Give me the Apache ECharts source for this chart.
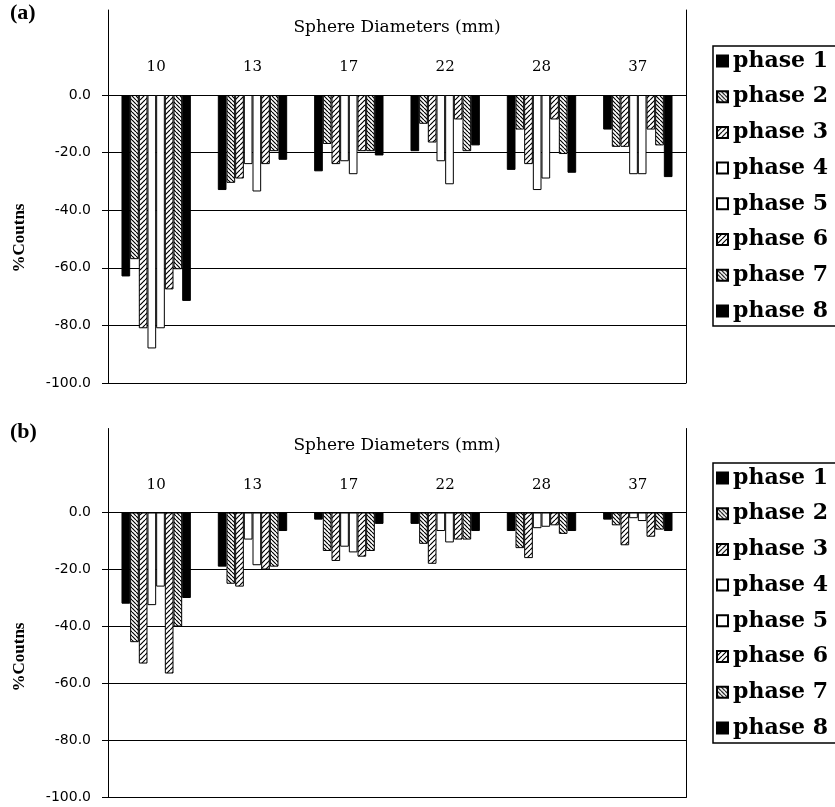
<!DOCTYPE html>
<html>
<head>
<meta charset="utf-8">
<script src="https://cdn.jsdelivr.net/npm/echarts@6/dist/echarts.min.js"></script>
<style>html,body{margin:0;padding:0;background:#fff}#c{width:835px;height:807px}</style>
</head>
<body>
<div id="c"></div>
<script>
// ---- data ----
const categories = ['10', '13', '17', '22', '28', '37'];
const phaseNames = ['phase 1', 'phase 2', 'phase 3', 'phase 4', 'phase 5', 'phase 6', 'phase 7', 'phase 8'];
const yMin = -100, yMax = 0, yStep = 20;

// panel (a)
const a_phase1 = [-63, -33, -26.5, -19.5, -26, -12];
const a_phase2 = [-57, -30.5, -17, -10, -12, -18];
const a_phase3 = [-81, -29, -24, -16.5, -24, -18];
const a_phase4 = [-88, -24, -23, -23, -33, -27.5];
const a_phase5 = [-81, -33.5, -27.5, -31, -29, -27.5];
const a_phase6 = [-67.5, -24, -19.5, -8.5, -8.5, -12];
const a_phase7 = [-60.5, -19.5, -19.5, -19.5, -20.5, -17.5];
const a_phase8 = [-71.5, -22.5, -21, -17.5, -27, -28.5];

// panel (b)
const b_phase1 = [-32, -19, -2.5, -4, -6.5, -2.5];
const b_phase2 = [-45.5, -25, -13.5, -11, -12.5, -4.5];
const b_phase3 = [-53, -26, -17, -18, -16, -11.5];
const b_phase4 = [-32.5, -9.5, -12, -6.5, -5.5, -2];
const b_phase5 = [-26, -18.5, -14, -10.5, -5, -3];
const b_phase6 = [-56.5, -20, -15.5, -9.5, -4.5, -8.5];
const b_phase7 = [-40, -19, -13.5, -9.5, -7.5, -6];
const b_phase8 = [-30, -6.5, -4, -6.5, -6.5, -6.5];

const panelA = [a_phase1, a_phase2, a_phase3, a_phase4, a_phase5, a_phase6, a_phase7, a_phase8];
const panelB = [b_phase1, b_phase2, b_phase3, b_phase4, b_phase5, b_phase6, b_phase7, b_phase8];

// ---- patterns ----
function hatch(dir, size, lw) {
  const c = document.createElement('canvas');
  c.width = size; c.height = size;
  const ctx = c.getContext('2d');
  ctx.fillStyle = '#fff';
  ctx.fillRect(0, 0, size, size);
  ctx.strokeStyle = '#000';
  ctx.lineWidth = lw;
  ctx.beginPath();
  for (const k of [-size, 0, size]) {
    if (dir === 'back') { ctx.moveTo(k, 0); ctx.lineTo(k + size, size); }
    else { ctx.moveTo(k + size, 0); ctx.lineTo(k, size); }
  }
  ctx.stroke();
  return { image: c, repeat: 'repeat' };
}
const fills = [
  '#000',
  hatch('back', 4, 1.2),
  hatch('fwd', 5, 1.2),
  '#fff',
  '#fff',
  hatch('fwd', 5, 1.2),
  hatch('back', 4, 1.2),
  '#000'
];

const chart = echarts.init(document.getElementById('c'), null, { renderer: 'canvas' });

function xAxisFor(gi) {
  return {
    type: 'category', gridIndex: gi, data: categories, position: 'top',
    axisLine: { show: true, lineStyle: { color: '#000', width: 1 } },
    axisTick: { show: false },
    axisLabel: { fontFamily: 'DejaVu Serif', fontSize: 15, color: '#000', margin: 20 },
    name: 'Sphere Diameters (mm)', nameLocation: 'middle', nameGap: 67,
    nameTextStyle: { fontFamily: 'DejaVu Serif', fontSize: 17, color: '#000', verticalAlign: 'middle' }
  };
}
function yAxisFor(gi) {
  return {
    type: 'value', gridIndex: gi, min: yMin, max: yMax, interval: yStep, position: 'left',
    axisLine: { show: true, lineStyle: { color: '#000', width: 1 } },
    axisTick: { show: true, length: 6, lineStyle: { color: '#000' } },
    axisLabel: { formatter: v => v.toFixed(1), fontFamily: 'DejaVu Sans', fontSize: 14, color: '#000', margin: 17 },
    splitLine: { show: true, lineStyle: { color: '#000', width: 1 } }
  };
}
function frameX(gi) {
  return { type: 'category', gridIndex: gi, data: categories, show: false };
}
function frameY(gi, pos) {
  return {
    type: 'value', gridIndex: gi, min: 0, max: 1, position: pos,
    axisLine: { show: true, lineStyle: { color: '#000', width: 1 } },
    axisTick: { show: false }, axisLabel: { show: false }, splitLine: { show: false }
  };
}

const series = [];
[panelA, panelB].forEach((panel, gi) => {
  panel.forEach((vals, i) => {
    series.push({
      type: 'bar', name: phaseNames[i], data: vals,
      xAxisIndex: gi, yAxisIndex: gi,
      barGap: '0%', barCategoryGap: '28%',
      itemStyle: { color: fills[i], borderColor: '#000', borderWidth: 1 },
      emphasis: { disabled: true }
    });
  });
});

function legendFor(top) {
  return {
    orient: 'vertical', left: 713, top: top, data: phaseNames,
    icon: 'rect', itemWidth: 11, itemHeight: 11, itemGap: 11.7,
    textStyle: { fontFamily: 'DejaVu Serif', fontWeight: 'bold', fontSize: 22, color: '#000', lineHeight: 24 },
    borderColor: '#000', borderWidth: 1.5, padding: [3, 40, 3, 3],
    selectedMode: false
  };
}

const gridBase = { left: 108, right: 149, outerBoundsMode: 'none', containLabel: false };
chart.setOption({
  animation: false,
  backgroundColor: '#fff',
  grid: [
    Object.assign({ top: 95, bottom: 424 }, gridBase),
    Object.assign({ top: 512.5, bottom: 9.5 }, gridBase),
    Object.assign({ top: 10, bottom: 424 }, gridBase),
    Object.assign({ top: 428.5, bottom: 9.5 }, gridBase)
  ],
  xAxis: [xAxisFor(0), xAxisFor(1), frameX(2), frameX(3)],
  yAxis: [yAxisFor(0), yAxisFor(1), frameY(2, 'left'), frameY(2, 'right'), frameY(3, 'left'), frameY(3, 'right')],
  legend: [legendFor(46), legendFor(463)],
  series: series,
  graphic: [
    { type: 'text', left: 10, top: 2, style: { text: '(a)', font: 'bold 22px "Liberation Serif"', fill: '#000' } },
    { type: 'text', left: 10, top: 421, style: { text: '(b)', font: 'bold 22px "Liberation Serif"', fill: '#000' } },
    { type: 'text', x: 20, y: 238, rotation: Math.PI / 2, style: { text: '%Coutns', font: 'bold 17px "Liberation Serif"', fill: '#000', align: 'center', verticalAlign: 'middle' } },
    { type: 'text', x: 20, y: 657, rotation: Math.PI / 2, style: { text: '%Coutns', font: 'bold 17px "Liberation Serif"', fill: '#000', align: 'center', verticalAlign: 'middle' } }
  ]
});
</script>
</body>
</html>
